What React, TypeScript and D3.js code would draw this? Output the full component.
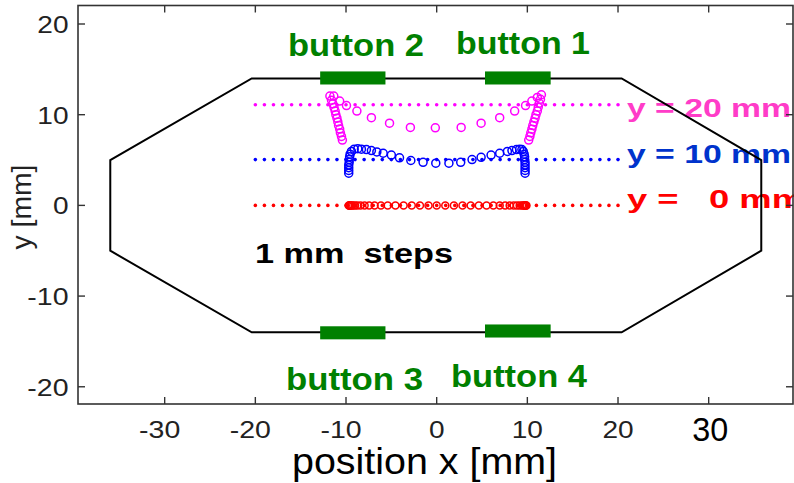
import React from "react";
import * as d3 from "d3";

// ---------- data ----------
const xTicks = [-30, -20, -10, 0, 10, 20];
const xTickLabels = ["-30", "-20", "-10", "0", "10", "20"];
const extraXTick = 30;
const extraXTickLabel = "30";
const yTicks = [-20, -10, 0, 10, 20];
const yTickLabels = ["-20", "-10", "0", "10", "20"];

// housing outline (octagon) vertices, mm
const outlineX = [-20.4, 20.4, 35.8, 35.8, 20.4, -20.4, -36, -36];
const outlineY = [14, 14, 5, -5, -14, -14, -5, 5];

// buttons: [x0, x1, yCenter]
const buttonNames = ["button 2", "button 1", "button 3", "button 4"];
const buttonX0 = [-12.85, 5.33, -12.85, 5.33];
const buttonX1 = [-5.65, 12.57, -5.65, 12.57];
const buttonYc = [14.05, 14.05, -14.05, -13.85];

// true scan positions (1 mm steps)
const scanX = [-20, -19, -18, -17, -16, -15, -14, -13, -12, -11, -10, -9, -8, -7, -6, -5, -4, -3, -2, -1, 0,
  1, 2, 3, 4, 5, 6, 7, 8, 9, 10, 11, 12, 13, 14, 15, 16, 17, 18, 19, 20];
const scanYLines = [11.1, 5.05, 0];

// measured positions, line at y = 20 mm (magenta)
const magX = [-10.4, -10.5, -10.62, -10.7, -10.82, -10.9, -11.0, -11.12, -11.2, -11.32, -11.45, -11.6, -11.78,
  -11.35, -10.7, -9.95, -8.8, -7.2, -5.2, -2.9, -0.15, 2.7, 4.9, 6.95, 8.6, 9.8, 10.5, 11.1, 11.55,
  11.45, 11.32, 11.2, 11.1, 10.95, 10.85, 10.72, 10.6, 10.5, 10.38, 10.28, 10.15];
const magY = [7.2, 7.6, 8.0, 8.42, 8.8, 9.2, 9.62, 10.0, 10.4, 10.8, 11.2, 11.6, 12.05,
  12.05, 11.5, 11.0, 10.4, 9.67, 9.07, 8.6, 8.55, 8.6, 9.07, 9.67, 10.4, 11.0, 11.5, 11.9, 12.2,
  11.7, 11.25, 10.82, 10.4, 10.0, 9.6, 9.2, 8.8, 8.4, 8.0, 7.6, 7.2];

// measured positions, line at y = 10 mm (blue)
const bluX = [-9.7, -9.7, -9.7, -9.7, -9.65, -9.65, -9.6, -9.55, -9.4, -9.1, -8.7, -8.3, -7.75, -7.2, -6.6, -5.9,
  -5.0, -4.1, -2.85, -1.5, -0.1, 1.35, 2.65, 3.9, 4.9, 6.0, 6.95, 7.8, 8.3, 8.8, 9.15, 9.4, 9.55, 9.65,
  9.7, 9.7, 9.75, 9.75, 9.75, 9.75, 9.75];
const bluY = [3.55, 3.85, 4.15, 4.45, 4.75, 5.05, 5.35, 5.65, 5.95, 6.2, 6.25, 6.2, 6.15, 6.05, 5.9, 5.75,
  5.55, 5.25, 4.95, 4.75, 4.65, 4.65, 4.75, 5.05, 5.3, 5.55, 5.75, 5.95, 6.05, 6.15, 6.2, 6.15, 5.95, 5.65,
  5.35, 5.05, 4.75, 4.45, 4.15, 3.85, 3.55];

// measured positions, line at y = 0 mm (red)
const redX = [-9.7, -9.65, -9.6, -9.55, -9.45, -9.35, -9.2, -9.0, -8.75, -8.4, -7.95, -7.45, -6.85, -6.15, -5.4,
  -4.55, -3.65, -2.75, -1.85, -0.9, 0, 0.95, 1.9, 2.85, 3.75, 4.65, 5.5, 6.25, 6.95, 7.55, 8.05, 8.5, 8.85,
  9.15, 9.4, 9.55, 9.65, 9.75, 9.8, 9.85, 9.9];
const redY = [0, 0, 0, 0, 0, 0, 0, 0, 0, 0, 0, 0, 0, 0, 0, 0, 0, 0, 0, 0, 0,
  0, 0, 0, 0, 0, 0, 0, 0, 0, 0, 0, 0, 0, 0, 0, 0, 0, 0, 0, 0];

const legendLabels = ["y = 20 mm", "y = 10 mm", "y =   0 mm"];
const dotColors = ["#ff00ff", "#0000ff", "#ff0000"];
const legendColors = ["#ff3cc8", "#0033cc", "#ff0000"];

// ---------- layout ----------
const W = 794, H = 483;
const x = d3.scaleLinear().domain([-39.56, 39.3]).range([78, 793]);
const y = d3.scaleLinear().domain([-21.9, 22.04]).range([404, 5.5]);
const FONT = "'Liberation Sans', Arial, Helvetica, sans-serif";
const GREEN = "#008000";

function T(props: any) {
  const { tx, ty, len, size, weight = "normal", fill = "#000", anchor = "start", rot = 0, children } = props;
  return (
    <text
      transform={`translate(${tx},${ty}) rotate(${rot})`}
      fontFamily={FONT}
      fontSize={size}
      fontWeight={weight}
      fill={fill}
      textAnchor={anchor}
      textLength={len}
      lengthAdjust="spacingAndGlyphs"
      style={{ whiteSpace: "pre" }}
    >
      {children}
    </text>
  );
}

export default function App() {
  const [x0, x1] = x.range();
  const [yb, yt] = y.range();
  const tickLen = 7;
  const tickFs = 24.5;
  const digitW = 15.6;
  const minusW = 10;

  const outline = d3.line<number>()
    .x((_, i) => x(outlineX[i]))
    .y((_, i) => y(outlineY[i]))
    .curve(d3.curveLinearClosed)(outlineX);

  const measured = [
    { xs: magX, ys: magY, c: dotColors[0] },
    { xs: bluX, ys: bluY, c: dotColors[1] },
    { xs: redX, ys: redY, c: dotColors[2] },
  ];

  const legendBase = [117, 163, 208];
  const legendLen = [164, 164, 177];

  const labW = (s: string) => s.replace("-", "").length * digitW + (s.startsWith("-") ? minusW : 0);

  return (
    <svg width={W} height={H} style={{ position: "absolute", left: 0, top: 0, background: "#fff" }}>
      <rect x={0} y={0} width={W} height={H} fill="#fff" />

      {/* legend labels */}
      {legendLabels.map((l, i) => (
        <T key={l} tx={627} ty={legendBase[i]} len={legendLen[i]} size={26.5} weight="bold" fill={legendColors[i]}>{l}</T>
      ))}

      {/* dotted scan lines */}
      {scanYLines.map((yy, li) => (
        <g key={"dl" + li} fill={dotColors[li]}>
          {scanX.map((sxv) => (
            <circle key={sxv} cx={x(sxv)} cy={y(yy)} r={1.8} />
          ))}
        </g>
      ))}

      {/* measured circles */}
      {measured.map((m, mi) => (
        <g key={"m" + mi} fill="none" stroke={m.c} strokeWidth={1.5}>
          {m.xs.map((xv, i) => (
            <circle key={i} cx={x(xv)} cy={y(m.ys[i])} r={mi === 2 ? 3.5 : 4} />
          ))}
        </g>
      ))}

      {/* housing outline */}
      <path d={outline || ""} fill="none" stroke="#000" strokeWidth={2} strokeLinejoin="miter" />

      {/* buttons */}
      {buttonNames.map((b, i) => (
        <rect key={b} x={x(buttonX0[i])} width={x(buttonX1[i]) - x(buttonX0[i])}
          y={y(buttonYc[i] + 0.72)} height={y(buttonYc[i] - 0.72) - y(buttonYc[i] + 0.72)} fill={GREEN} />
      ))}

      {/* button labels */}
      <T tx={288} ty={56} len={136} size={32} weight="bold" fill={GREEN}>{buttonNames[0]}</T>
      <T tx={456} ty={54} len={134} size={32} weight="bold" fill={GREEN}>{buttonNames[1]}</T>
      <T tx={286} ty={390} len={137} size={32} weight="bold" fill={GREEN}>{buttonNames[2]}</T>
      <T tx={451} ty={387} len={136} size={32} weight="bold" fill={GREEN}>{buttonNames[3]}</T>

      <T tx={255} ty={263} len={198} size={28} weight="bold">{"1 mm  steps"}</T>

      {/* axes box */}
      <rect x={x0} y={yt} width={x1 - x0} height={yb - yt} fill="none" stroke="#333" strokeWidth={1.6} />
      {xTicks.concat([extraXTick]).map((t) => (
        <g key={"xt" + t} stroke="#333" strokeWidth={1.4}>
          <line x1={x(t)} x2={x(t)} y1={yb} y2={yb - tickLen} />
          <line x1={x(t)} x2={x(t)} y1={yt} y2={yt + tickLen} />
        </g>
      ))}
      {yTicks.map((t) => (
        <g key={"yt" + t} stroke="#333" strokeWidth={1.4}>
          <line x1={x0} x2={x0 + tickLen} y1={y(t)} y2={y(t)} />
          <line x1={x1} x2={x1 - tickLen} y1={y(t)} y2={y(t)} />
        </g>
      ))}
      {xTicks.map((t, i) => {
        const nd = xTickLabels[i].replace("-", "").length;
        return (
          <T key={"xl" + t} tx={x(t) + (nd * digitW) / 2} ty={438} len={labW(xTickLabels[i])} size={tickFs} fill="#222" anchor="end">
            {xTickLabels[i]}
          </T>
        );
      })}
      <T tx={x(extraXTick) + 1.5} ty={440.5} len={36} size={33} fill="#000" anchor="middle">{extraXTickLabel}</T>
      {yTicks.map((t, i) => (
        <T key={"yl" + t} tx={68.5} ty={y(t) + 9} len={labW(yTickLabels[i])} size={tickFs} fill="#222" anchor="end">
          {yTickLabels[i]}
        </T>
      ))}

      {/* axis titles */}
      <T tx={292} ty={474} len={265} size={36} fill="#000">position x [mm]</T>
      <T tx={31} ty={207} len={85} size={28} fill="#222" anchor="middle" rot={-90}>y [mm]</T>
    </svg>
  );
}
